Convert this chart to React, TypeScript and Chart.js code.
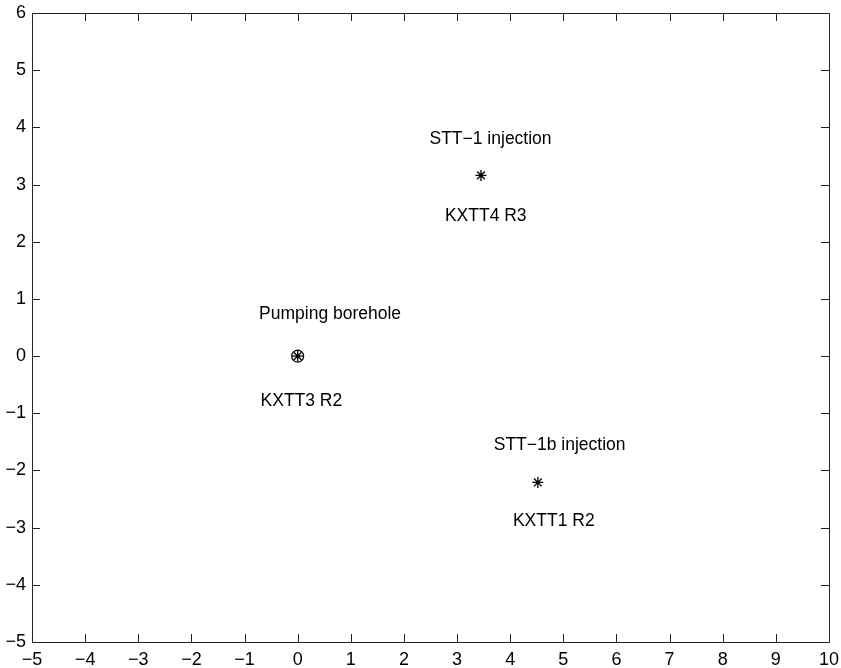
import React, { useEffect, useRef } from "react";
import { Chart, registerables } from "chart.js";

Chart.register(...registerables);

const xTicks = [-5, -4, -3, -2, -1, 0, 1, 2, 3, 4, 5, 6, 7, 8, 9, 10];
const yTicks = [-5, -4, -3, -2, -1, 0, 1, 2, 3, 4, 5, 6];

const starX = [3.45, 4.52, 0];
const starY = [3.16, -2.21, 0];
const circleX = [0];
const circleY = [0];

const labelText = [
  "STT\u22121 injection",
  "KXTT4 R3",
  "Pumping borehole",
  "KXTT3 R2",
  "STT\u22121b injection",
  "KXTT1 R2",
];
const labelX = [3.63, 3.54, 0.61, 0.07, 4.93, 4.82];
const labelY = [3.79, 2.45, 0.73, -0.79, -1.55, -2.88];

const FONT = '17.5px "Liberation Sans", Arial, Helvetica, sans-serif';
const fmt = (v: number) => (v < 0 ? "\u2212" + Math.abs(v) : String(v));

const boxPlugin = {
  id: "matlabBox",
  afterDraw(chart: any) {
    const { ctx, chartArea } = chart;
    const { left, right, top, bottom } = chartArea;
    const xs = chart.scales.x;
    const ys = chart.scales.y;
    const tl = 8;
    ctx.save();
    ctx.strokeStyle = "#222";
    ctx.lineWidth = 1;
    ctx.strokeRect(Math.round(left) + 0.5, Math.round(top) + 0.5, Math.round(right - left), Math.round(bottom - top));
    ctx.beginPath();
    xTicks.forEach((v) => {
      const px = Math.round(xs.getPixelForValue(v)) + 0.5;
      ctx.moveTo(px, bottom);
      ctx.lineTo(px, bottom - tl);
      ctx.moveTo(px, top);
      ctx.lineTo(px, top + tl);
    });
    yTicks.forEach((v) => {
      const py = Math.round(ys.getPixelForValue(v)) + 0.5;
      ctx.moveTo(left, py);
      ctx.lineTo(left + tl, py);
      ctx.moveTo(right, py);
      ctx.lineTo(right - tl, py);
    });
    ctx.stroke();
    ctx.fillStyle = "#000";
    ctx.font = FONT;
    ctx.textAlign = "center";
    ctx.textBaseline = "middle";
    labelText.forEach((t, i) => {
      ctx.fillText(t, xs.getPixelForValue(labelX[i]), ys.getPixelForValue(labelY[i]));
    });
    ctx.restore();
  },
};

export default function App() {
  const ref = useRef<HTMLCanvasElement | null>(null);
  useEffect(() => {
    document.body.style.margin = "0";
    const canvas = ref.current;
    if (!canvas) return;
    const tickFont = { family: '"Liberation Sans", Arial, sans-serif', size: 18 };
    const chart = new Chart(canvas, {
      type: "scatter",
      data: {
        datasets: [
          {
            data: starX.map((x, i) => ({ x, y: starY[i] })),
            pointStyle: "star",
            radius: 5.5,
            borderColor: "#000",
            backgroundColor: "#000",
            borderWidth: 1.3,
          },
          {
            data: circleX.map((x, i) => ({ x, y: circleY[i] })),
            pointStyle: "circle",
            radius: 6,
            borderColor: "#000",
            backgroundColor: "rgba(0,0,0,0)",
            borderWidth: 1.2,
          },
        ],
      },
      options: {
        responsive: false,
        animation: false,
        devicePixelRatio: 1,
        layout: { padding: { top: 13, right: 12, left: 0, bottom: 0 } },
        plugins: { legend: { display: false }, tooltip: { enabled: false } },
        scales: {
          x: {
            type: "linear",
            min: -5,
            max: 10,
            afterBuildTicks: (s: any) => {
              s.ticks = xTicks.map((v) => ({ value: v }));
            },
            afterFit: (s: any) => {
              s.height = 26;
              s.paddingLeft = 0;
              s.paddingRight = 0;
            },
            grid: { display: false, drawTicks: false },
            border: { display: false },
            ticks: {
              padding: 7,
              color: "#000",
              font: tickFont,
              callback: (v: any) => fmt(Number(v)),
              maxRotation: 0,
              autoSkip: false,
            },
          },
          y: {
            type: "linear",
            min: -5,
            max: 6,
            afterBuildTicks: (s: any) => {
              s.ticks = yTicks.map((v) => ({ value: v }));
            },
            afterFit: (s: any) => {
              s.width = 32;
              s.paddingTop = 0;
              s.paddingBottom = 0;
            },
            grid: { display: false, drawTicks: false },
            border: { display: false },
            ticks: {
              padding: 6,
              color: "#000",
              font: tickFont,
              callback: (v: any) => fmt(Number(v)),
              autoSkip: false,
            },
          },
        },
      },
      plugins: [boxPlugin],
    });
    return () => chart.destroy();
  }, []);
  return (
    <div style={{ width: 841, height: 668, background: "#fff" }}>
      <canvas ref={ref} width={841} height={668} style={{ display: "block" }} />
    </div>
  );
}
